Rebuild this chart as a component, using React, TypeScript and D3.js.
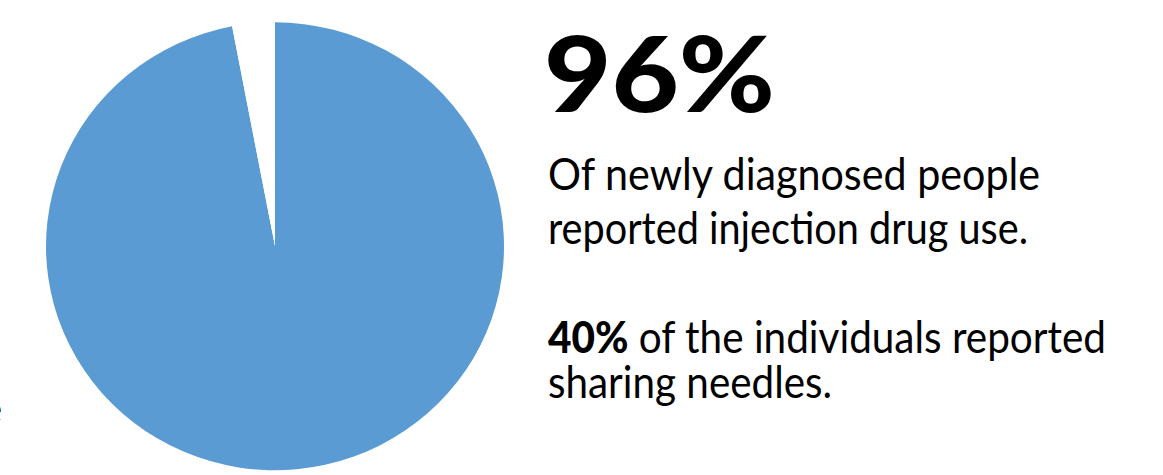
import React from 'react';
import * as d3 from 'd3';

// share of the pie (blue part vs. the thin gap at the top)
const sliceLabels = ['reported', 'other'];
const sliceValues = [97, 3];
const sliceColors = ['#5b9bd3', '#ffffff'];

const headline = '96%';
const bodyLines = ['Of newly diagnosed people', 'reported injection drug use.'];
const noteBold = '40%';
const noteLines = [' of the individuals reported', 'sharing needles.'];

const W = 1163;
const H = 475;

export default function App() {
    const cx = 275;
    const cy = 246.3;
    const r = 229;
    const squash = 0.978;

    const pie = d3.pie<number>().sort(null).value(d => d)(sliceValues);
    const arc = d3.arc<d3.PieArcDatum<number>>().innerRadius(0).outerRadius(r);

    const font = 'Lato, "Noto Sans", sans-serif';
    const bodyWidths = [492, 480];

    return (
        <svg width={W} height={H} style={{ position: 'absolute', left: 0, top: 0, display: 'block' }}>
            <rect width={W} height={H} fill="#fff" />
            {/* cut-off letter from a neighbouring panel */}
            <text x={-19} y={423} fontFamily={font} fontSize={40} fill="#000">e</text>
            <g transform={`translate(${cx},${cy}) scale(1,${squash})`}>
                {pie.map((d, i) => (
                    <path key={sliceLabels[i]} d={arc(d) || ''} fill={sliceColors[i]} />
                ))}
            </g>
            <text x={544} y={112} fontFamily={font} fontWeight={900} fontSize={104} fill="#000"
                textLength={231} lengthAdjust="spacingAndGlyphs">{headline}</text>
            {bodyLines.map((t, i) => (
                <text key={t} x={548} y={190 + i * 53.5} fontFamily={font} fontWeight={400} fontSize={44} fill="#000"
                    textLength={bodyWidths[i]} lengthAdjust="spacingAndGlyphs">{t}</text>
            ))}
            <text x={548} y={352.5} fontFamily={font} fontSize={44} fill="#000"
                textLength={558} lengthAdjust="spacingAndGlyphs">
                <tspan fontWeight={900}>{noteBold}</tspan>
                <tspan fontWeight={400}>{noteLines[0]}</tspan>
            </text>
            <text x={548} y={397.5} fontFamily={font} fontWeight={400} fontSize={44} fill="#000"
                textLength={284} lengthAdjust="spacingAndGlyphs">{noteLines[1]}</text>
        </svg>
    );
}
